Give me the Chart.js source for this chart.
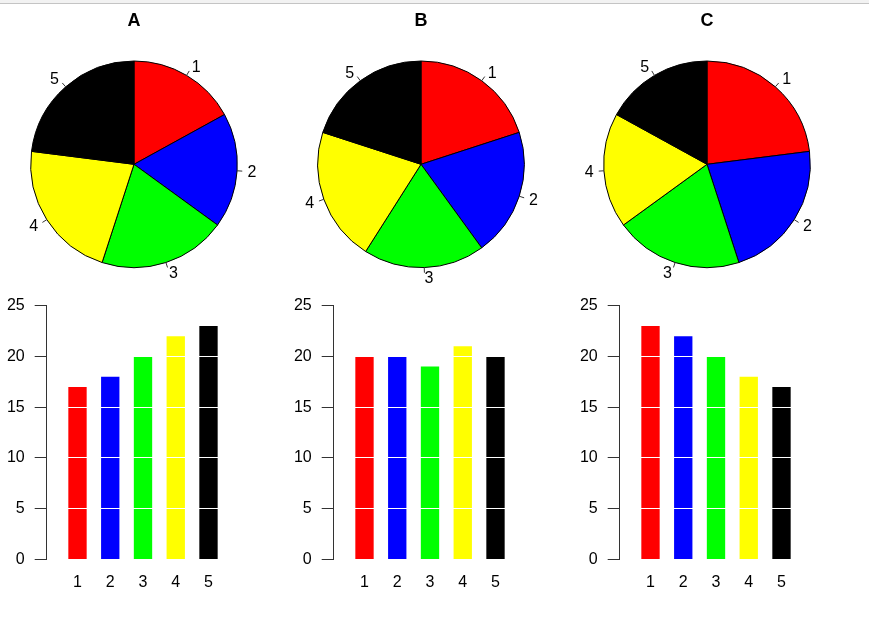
<!DOCTYPE html>
<html>
<head>
<meta charset="utf-8">
<script src="https://cdn.jsdelivr.net/npm/chart.js@4.4.1/dist/chart.umd.min.js"></script>
<style>
body { margin:0; background:#fff; width:869px; height:644px; overflow:hidden; position:relative; }
#topbar { position:absolute; left:0; top:0; width:869px; height:3px; background:#f2f2f2; border-bottom:1px solid #c4c4c4; }
canvas { position:absolute; }
</style>
</head>
<body>
<div id="topbar"></div>
<script>
// data
const panelTitles = ['A', 'B', 'C'];
const categories = ['1', '2', '3', '4', '5'];
const valuesA = [17, 18, 20, 22, 23];
const valuesB = [20, 20, 19, 21, 20];
const valuesC = [23, 22, 20, 18, 17];
const yTicks = [0, 5, 10, 15, 20, 25];
const sliceColors = ['#ff0000', '#0000ff', '#00ff00', '#ffff00', '#000000'];

const panelValues = [valuesA, valuesB, valuesC];

Chart.defaults.font.family = '"Liberation Sans", Arial, sans-serif';
Chart.defaults.color = '#000';

// layout (pixels)
const colX = [0, 286.6, 573.2];
const pieCenterX = 134.2;
const pieW = 268, pieH = 300;
const barW = 287, barH = 320, barTop = 280;
const axisX = 46.7;
const plotTop = 25.7;    // y of value 25 inside the bar canvas
const plotBottom = 279.5; // y of value 0 inside the bar canvas
const firstBar = 30.8;   // from axis to first bar centre
const pitch = 32.75;

// labels with small tick lines outside the pie, like R's pie()
const pieLabels = {
    id: 'pieLabels',
    afterDatasetsDraw(chart) {
        const ctx = chart.ctx;
        const meta = chart.getDatasetMeta(0);
        ctx.save();
        ctx.strokeStyle = '#333';
        ctx.lineWidth = 1;
        ctx.fillStyle = '#000';
        ctx.font = '16px "Liberation Sans", Arial, sans-serif';
        ctx.textBaseline = 'middle';
        meta.data.forEach((arc, i) => {
            const p = arc.getProps(['x', 'y', 'startAngle', 'endAngle', 'outerRadius'], true);
            const mid = (p.startAngle + p.endAngle) / 2;
            const c = Math.cos(mid), s = Math.sin(mid);
            const r = p.outerRadius;
            ctx.beginPath();
            ctx.moveTo(p.x + r * c, p.y + r * s);
            ctx.lineTo(p.x + 1.05 * r * c, p.y + 1.05 * r * s);
            ctx.stroke();
            ctx.textAlign = c < 0 ? 'right' : 'left';
            ctx.fillText(chart.data.labels[i], p.x + 1.1 * r * c, p.y + 1.1 * r * s + 1);
        });
        ctx.restore();
    }
};

function makeCanvas(left, top, w, h) {
    const cv = document.createElement('canvas');
    cv.width = w;
    cv.height = h;
    cv.style.left = left + 'px';
    cv.style.top = top + 'px';
    cv.style.width = w + 'px';
    cv.style.height = h + 'px';
    document.body.appendChild(cv);
    return cv;
}

panelValues.forEach((values, k) => {
    // PIE
    const pieCanvas = makeCanvas(colX[k] + pieCenterX - pieW / 2, 0, pieW, pieH);
    new Chart(pieCanvas, {
        type: 'pie',
        data: {
            labels: categories,
            datasets: [{
                data: values,
                backgroundColor: sliceColors,
                borderColor: '#000',
                borderWidth: 1
            }]
        },
        options: {
            responsive: false,
            animation: false,
            layout: { padding: { left: 30.2, right: 30.2, top: 0, bottom: 3 } },
            plugins: {
                legend: { display: false },
                tooltip: { enabled: false },
                title: {
                    display: true,
                    text: panelTitles[k],
                    color: '#000',
                    font: { size: 18, weight: 'bold' },
                    padding: { top: 10, bottom: 0 }
                }
            }
        },
        plugins: [pieLabels]
    });

    // BAR
    const barCanvas = makeCanvas(colX[k], barTop, barW, barH);
    const xMin = 1 - firstBar / pitch;
    const xMax = xMin + (barW - axisX) / pitch;
    new Chart(barCanvas, {
        type: 'bar',
        data: {
            datasets: [{
                data: categories.map((c, i) => ({ x: i + 1, y: values[i] })),
                backgroundColor: sliceColors,
                borderWidth: 0,
                barPercentage: 0.56,
                categoryPercentage: 1
            }]
        },
        options: {
            responsive: false,
            animation: false,
            layout: { padding: { left: 0, right: 0, top: plotTop, bottom: 0 } },
            plugins: { legend: { display: false }, tooltip: { enabled: false } },
            scales: {
                x: {
                    type: 'linear',
                    offset: false,
                    min: xMin,
                    max: xMax,
                    grid: { display: false, drawTicks: false, offset: false },
                    border: { display: false },
                    afterBuildTicks: (scale) => {
                        scale.ticks = categories.map((c, i) => ({ value: i + 1 }));
                    },
                    afterFit: (scale) => { scale.height = barH - plotBottom; },
                    ticks: {
                        padding: 13,
                        font: { size: 16 },
                        color: '#000',
                        maxRotation: 0,
                        callback: (v) => categories[v - 1]
                    }
                },
                y: {
                    min: 0,
                    max: 25,
                    afterBuildTicks: (scale) => {
                        scale.ticks = yTicks.map(v => ({ value: v }));
                    },
                    afterFit: (scale) => { scale.width = axisX; },
                    grid: {
                        z: 1,
                        drawOnChartArea: true,
                        drawTicks: true,
                        tickLength: 12,
                        tickColor: '#333',
                        lineWidth: 1,
                        color: (ctx) => (ctx.tick && (ctx.tick.value === 0 || ctx.tick.value === 25)) ? 'rgba(0,0,0,0)' : '#ffffff'
                    },
                    border: { display: true, color: '#333', width: 1, z: 2 },
                    ticks: {
                        padding: 10,
                        font: { size: 16 },
                        color: '#000'
                    }
                }
            }
        }
    });
});
</script>
</body>
</html>
